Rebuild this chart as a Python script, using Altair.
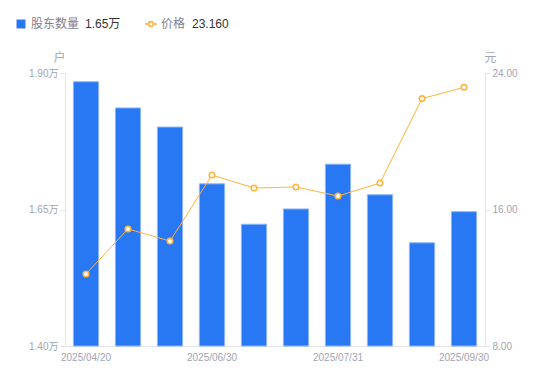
import altair as alt
import pandas as pd

dates = ["2025/04/20", "2025/05/10", "2025/05/31", "2025/06/30", "2025/07/10",
         "2025/07/20", "2025/07/31", "2025/08/20", "2025/08/31", "2025/09/30"]
holders = [1.884, 1.836, 1.801, 1.697, 1.623, 1.651, 1.733, 1.677, 1.589, 1.646]  # 万户
prices = [12.22, 14.86, 14.15, 18.02, 17.26, 17.32, 16.79, 17.55, 22.50, 23.16]
holder_ticks = [1.40, 1.65, 1.90]
price_ticks = [8.0, 16.0, 24.0]
x_label_dates = [dates[0], dates[3], dates[6], dates[9]]

df = pd.DataFrame({"date": dates, "holders": holders, "price": prices,
                   "base": [holder_ticks[0]] * len(dates)})

FONT = "Liberation Sans, Noto Sans CJK SC"
AX = "#a3a3b3"
DOM = "#e3e3e8"
BLUE = "#2878F4"
ORANGE = "#FFB43C"

x = alt.X("date:N", sort=dates,
          scale=alt.Scale(paddingInner=0.4, paddingOuter=0.2),
          axis=alt.Axis(title=None, values=x_label_dates, labelAngle=0, ticks=False,
                        domainColor=DOM, labelColor=AX, labelFontSize=10, labelFont=FONT,
                        labelPadding=6, labelOverlap=False))

bars = alt.Chart(df).mark_bar(color=BLUE, stroke="#8DB6F8", strokeWidth=1).encode(
    x=x,
    y=alt.Y("holders:Q", scale=alt.Scale(domain=[holder_ticks[0], holder_ticks[-1]], zero=False, nice=False),
            axis=alt.Axis(title="户", titleAngle=0, titleX=-6, titleY=-16, titleAlign="center",
                          titleBaseline="middle", titleColor=AX, titleFontWeight="normal",
                          titleFontSize=12, titleFont=FONT,
                          values=holder_ticks, labelExpr="format(datum.value,'.2f')+'万'",
                          grid=False, domainColor=DOM, tickColor=DOM, tickSize=5,
                          labelColor=AX, labelFontSize=10, labelFont=FONT, labelPadding=2)),
    y2="base:Q",
)

line_enc = dict(
    x=alt.X("date:N", sort=dates),
    y=alt.Y("price:Q", scale=alt.Scale(domain=[price_ticks[0], price_ticks[-1]], zero=False, nice=False),
            axis=alt.Axis(title="元", orient="right", titleAngle=0, titleX=5, titleY=-16,
                          titleAlign="center", titleBaseline="middle", titleColor=AX,
                          titleFontWeight="normal", titleFontSize=12, titleFont=FONT,
                          values=price_ticks, format=".2f", grid=False,
                          domainColor=DOM, tickColor=DOM, tickSize=5,
                          labelColor=AX, labelFontSize=10, labelFont=FONT, labelPadding=2)),
)
line = alt.Chart(df).mark_line(color=ORANGE, strokeWidth=1).encode(**line_enc)
pts = alt.Chart(df).mark_point(shape="circle", filled=True, fill="white", stroke=ORANGE,
                               strokeWidth=1.6, size=30, opacity=1).encode(**line_enc)

# legend
leg_df = pd.DataFrame({"a": [0]})
LY = -49
leg_sq = alt.Chart(leg_df).mark_square(color=BLUE, size=80, opacity=1).encode(
    x=alt.value(-44), y=alt.value(LY))
leg_t1 = alt.Chart(leg_df).mark_text(text="股东数量", align="left", baseline="middle",
                                     fontSize=12, font=FONT, color="#80808f").encode(
    x=alt.value(-34), y=alt.value(LY))
leg_v1 = alt.Chart(leg_df).mark_text(text=f"{holders[-1]:.2f}万", align="left", baseline="middle",
                                     fontSize=12, font=FONT, color="#333333").encode(
    x=alt.value(20), y=alt.value(LY))
leg_ln = alt.Chart(leg_df).mark_rule(color=ORANGE, strokeWidth=1.5).encode(
    x=alt.value(80), x2=alt.value(92), y=alt.value(LY))
leg_pt = alt.Chart(leg_df).mark_point(shape="circle", filled=True, fill="white", stroke=ORANGE,
                                      strokeWidth=1.6, size=22, opacity=1).encode(
    x=alt.value(86), y=alt.value(LY))
leg_t2 = alt.Chart(leg_df).mark_text(text="价格", align="left", baseline="middle",
                                     fontSize=12, font=FONT, color="#80808f").encode(
    x=alt.value(96), y=alt.value(LY))
leg_v2 = alt.Chart(leg_df).mark_text(text=f"{prices[-1]:.3f}", align="left", baseline="middle",
                                     fontSize=12, font=FONT, color="#333333").encode(
    x=alt.value(127), y=alt.value(LY))

chart = alt.layer(bars, line + pts, leg_sq, leg_t1, leg_v1, leg_ln, leg_pt, leg_t2, leg_v2).resolve_scale(
    y="independent"
).properties(
    width=420, height=273,
    autosize=alt.AutoSizeParams(type="none"),
    padding={"left": 57, "top": 65, "right": 57, "bottom": 27},
).configure_view(stroke=None)

chart.save("out.html", embed_options={"renderer": "svg", "actions": False})
